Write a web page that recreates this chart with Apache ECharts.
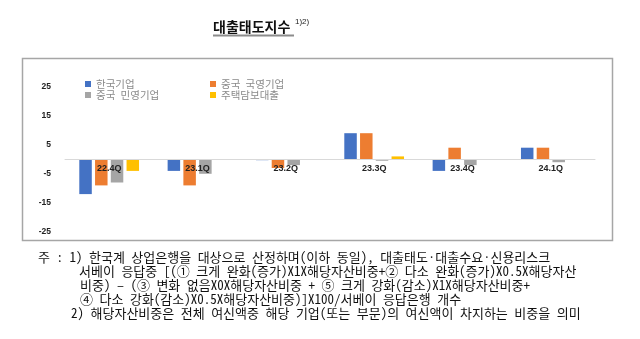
<!DOCTYPE html>
<html>
<head>
<meta charset="utf-8">
<script src="https://cdn.jsdelivr.net/npm/echarts@6/dist/echarts.min.js"></script>
<style>
  html, body { margin: 0; padding: 0; background: #fff; }
  #chart { width: 640px; height: 339px; }
</style>
</head>
<body>
<div id="chart"></div>
<script>
// Quarters on the horizontal axis
const quarters = ['22.4Q', '23.1Q', '23.2Q', '23.3Q', '23.4Q', '24.1Q'];

// Lending-attitude index by borrower group
const koreanFirms = [-12, -4, -0.3, 9, -4, 4];
const chinaStateFirms = [-9, -9, -3, 9, 4, 4];
const chinaPrivateFirms = [-8, -5, -2, -0.5, -2, -1];
const mortgageLoans = [-4, 0, 0, 1, 0, 0];

// Value-axis range and the ticks that carry a label
const yMin = -25;
const yMax = 25;
const yTickLabels = [-25, -15, -5, 5, 15, 25];

const seriesNames = ['한국기업', '중국 국영기업', '중국 민영기업', '주택담보대출'];
const seriesColors = ['#4472C4', '#ED7D31', '#A5A5A5', '#FFC000'];
const seriesData = [koreanFirms, chinaStateFirms, chinaPrivateFirms, mortgageLoans];

const notes = [
  { x: 38, y: 257, text: '주 : 1) 한국계 상업은행을 대상으로 산정하며(이하 동일), 대출태도·대출수요·신용리스크' },
  { x: 79, y: 271.5, text: '서베이 응답중 [(① 크게 완화(증가)X1X해당자산비중+② 다소 완화(증가)X0.5X해당자산' },
  { x: 80, y: 285, text: '비중) – (③ 변화 없음X0X해당자산비중 + ⑤ 크게 강화(감소)X1X해당자산비중+' },
  { x: 80, y: 299, text: '④ 다소 강화(감소)X0.5X해당자산비중)]X100/서베이 응답은행 개수' },
  { x: 71, y: 313, text: '2) 해당자산비중은 전체 여신액중 해당 기업(또는 부문)의 여신액이 차지하는 비중을 의미' }
];

const KR = '"Noto Sans CJK KR", "Noto Sans", sans-serif';
const KR_MONO = '"Noto Sans Mono CJK KR", "Noto Sans CJK KR", sans-serif';

const gridTop = 86.8;
const gridHeight = 145;
// distance from the bottom of the plot up to the zero line
const zeroOffset = gridHeight * (0 - yMin) / (yMax - yMin);

const chart = echarts.init(document.getElementById('chart'), null, { renderer: 'canvas' });

// One small legend per item so the two columns line up
const legendSpots = [
  { left: 85, top: 78 },
  { left: 210, top: 78 },
  { left: 85, top: 89 },
  { left: 210, top: 89 }
];

const option = {
  backgroundColor: '#fff',
  animation: false,
  textStyle: { fontFamily: KR },
  legend: seriesNames.map((name, i) => ({
    data: [name],
    left: legendSpots[i].left,
    top: legendSpots[i].top,
    padding: 0,
    icon: 'rect',
    itemWidth: 6,
    itemHeight: 6,
    itemGap: 0,
    selectedMode: false,
    textStyle: { color: '#8a8a8a', fontSize: 10.5, fontFamily: KR_MONO, lineHeight: 12 }
  })),
  grid: { left: 65, right: 45, top: gridTop, height: gridHeight, containLabel: false },
  xAxis: {
    type: 'category',
    data: quarters,
    z: 10,
    position: 'bottom',
    offset: -zeroOffset,
    axisLine: { onZero: false, lineStyle: { color: '#d9d9d9', width: 1 } },
    axisTick: { show: false },
    axisLabel: {
      margin: 5,
      color: '#222',
      fontSize: 9,
      fontWeight: 'bold',
      fontFamily: 'Arial, "Liberation Sans", sans-serif'
    }
  },
  yAxis: {
    type: 'value',
    min: yMin,
    max: yMax,
    interval: 5,
    axisLine: { show: false },
    axisTick: { show: false },
    splitLine: { show: false },
    axisLabel: {
      margin: 14,
      color: '#222',
      fontSize: 8.5,
      fontWeight: 'bold',
      fontFamily: 'Arial, "Liberation Sans", sans-serif',
      formatter: v => (yTickLabels.includes(v) ? String(v) : '')
    }
  },
  series: seriesNames.map((name, i) => ({
    name: name,
    type: 'bar',
    data: seriesData[i],
    barWidth: 12.5,
    barGap: '26%',
    itemStyle: { color: seriesColors[i] }
  })),
  graphic: [
    {
      type: 'rect',
      silent: true,
      shape: { x: 22.5, y: 58.5, width: 590, height: 182 },
      style: { fill: 'none', stroke: '#a6a6a6', lineWidth: 1.5 }
    },
    {
      type: 'text',
      x: 213, y: 27,
      style: {
        text: '대출태도지수',
        fontFamily: KR, fontSize: 14, fontWeight: 'bold',
        fill: '#111', verticalAlign: 'middle'
      }
    },
    {
      type: 'text',
      x: 295, y: 22,
      style: {
        text: '1)2)',
        fontFamily: 'Arial, "Liberation Sans", sans-serif', fontSize: 8,
        fill: '#222', verticalAlign: 'middle'
      }
    },
    {
      type: 'line',
      silent: true,
      shape: { x1: 213, y1: 35.5, x2: 294, y2: 35.5 },
      style: { stroke: '#8c8c8c', lineWidth: 2 }
    }
  ].concat(notes.map(n => ({
    type: 'text',
    x: n.x, y: n.y,
    style: {
      text: n.text,
      fontFamily: KR_MONO, fontSize: 13,
      fill: '#111', verticalAlign: 'middle'
    }
  })))
};

chart.setOption(option);
</script>
</body>
</html>
